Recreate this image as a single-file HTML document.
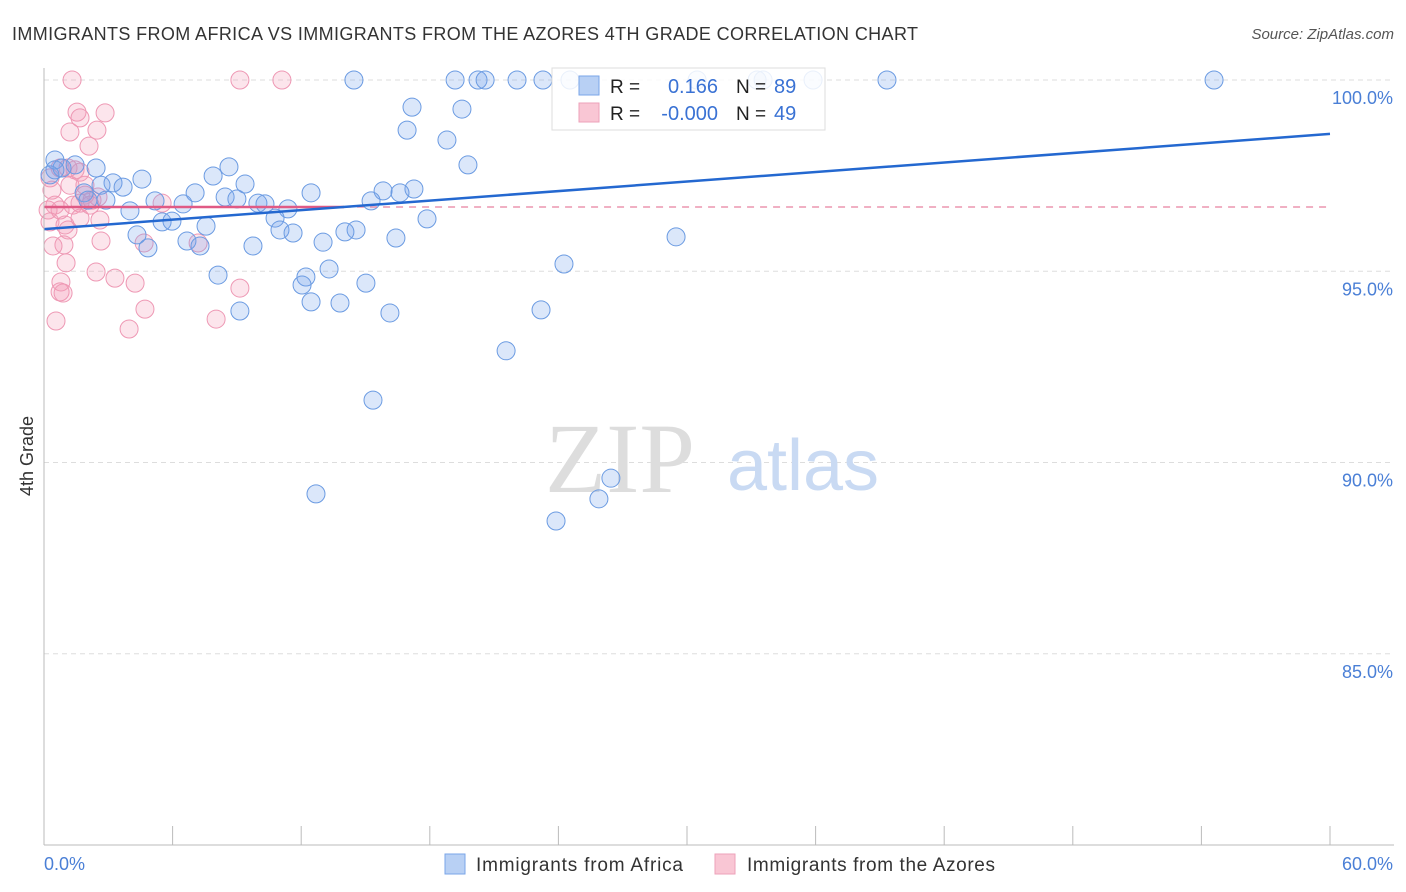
<!DOCTYPE html>
<html><head><meta charset="utf-8"><style>
body{margin:0;background:#fff;font-family:"Liberation Sans",sans-serif;}
svg{display:block}
</style></head><body>
<svg id="c" width="1406" height="892" viewBox="0 0 1406 892">
<text x="12" y="40" font-size="18" fill="#333" textLength="906">IMMIGRANTS FROM AFRICA VS IMMIGRANTS FROM THE AZORES 4TH GRADE CORRELATION CHART</text>
<text x="1394" y="39" font-size="15" fill="#555" text-anchor="end" font-style="italic">Source: ZipAtlas.com</text>
<text x="33" y="456" font-size="18" fill="#333" text-anchor="middle" transform="rotate(-90 33 456)">4th Grade</text>
<g id="grid"></g>
<text x="620" y="492" font-size="100" fill="#ddd" font-family="Liberation Serif,serif" text-anchor="middle">ZIP</text>
<text x="803" y="490" font-size="72" fill="#c9daf3" text-anchor="middle">atlas</text>
<g id="pts"></g>
<g id="trend"></g>
<line x1="44" y1="68" x2="44" y2="845" stroke="#bbb"/>
<line x1="44" y1="845" x2="1394" y2="845" stroke="#bbb"/>
<g id="xt"></g>
<text x="44" y="870" font-size="18" fill="#4a7fd6">0.0%</text>
<text x="1393" y="870" font-size="18" fill="#4a7fd6" text-anchor="end">60.0%</text>
<g>
<rect x="552" y="68" width="273" height="62" fill="#fff" fill-opacity="0.85" stroke="#ddd"/>
<rect x="579" y="76" width="20" height="19" fill="#b8d0f4" stroke="#7aa6e8"/>
<rect x="579" y="103" width="20" height="19" fill="#f9c6d4" stroke="#eda2ba"/>
<text x="610" y="93" font-size="19" fill="#222">R =</text>
<text x="718" y="93" font-size="20" fill="#3a72d4" text-anchor="end">0.166</text>
<text x="736" y="93" font-size="19" fill="#222">N =</text>
<text x="774" y="93" font-size="20" fill="#3a72d4">89</text>
<text x="610" y="120" font-size="19" fill="#222">R =</text>
<text x="718" y="120" font-size="20" fill="#3a72d4" text-anchor="end">-0.000</text>
<text x="736" y="120" font-size="19" fill="#222">N =</text>
<text x="774" y="120" font-size="20" fill="#3a72d4">49</text>
</g>
<rect x="445" y="854" width="20" height="20" fill="#b8d0f4" stroke="#7aa6e8"/>
<text x="476" y="871" font-size="19" fill="#333" textLength="207">Immigrants from Africa</text>
<rect x="715" y="854" width="20" height="20" fill="#f9c6d4" stroke="#eda2ba"/>
<text x="747" y="871" font-size="19" fill="#333" textLength="248">Immigrants from the Azores</text>
</svg>
<script>
const yTicks=[100,95,90,85];
const xTickCount=10;
const blueX=[14.46,19.18,20.25,20.58,22.07,23.28,24.54,30.47,33.27,33.55,35.88,39.33,54.59,17.17,19.5,16.94,18.8,19.78,0.51,0.84,1.45,2.43,8.63,7.89,4.57,3.22,3.69,2.66,9.38,1.87,7.05,12.46,15.82,17.26,16.61,8.45,9.0,5.18,2.89,2.05,6.49,9.98,10.31,15.26,11.38,4.01,10.78,17.87,5.51,5.97,7.56,11.01,11.62,14.56,14.04,4.34,6.67,4.85,7.28,9.75,13.02,16.42,29.49,24.26,13.3,8.12,12.22,12.04,15.02,12.46,13.81,9.14,16.14,23.19,21.56,15.35,12.69,26.45,25.89,23.89,0.51,0.28];
const blueY=[100,100,100,100,100,100,100,100,100,100,100,100,100,99.29,99.24,98.69,98.43,97.78,97.91,97.7,97.78,97.7,97.73,97.49,97.41,97.31,97.2,97.25,97.28,97.05,97.05,97.05,97.1,97.15,97.05,96.94,96.89,96.84,96.86,96.86,96.76,96.78,96.76,96.84,96.63,96.58,96.39,96.37,96.29,96.31,96.18,96.08,96.0,96.08,96.03,95.95,95.79,95.61,95.66,95.66,95.76,95.87,95.9,95.19,95.06,94.9,94.85,94.64,94.69,94.2,94.17,93.96,93.91,93.99,92.92,91.63,89.18,89.59,89.05,88.47,97.65,97.52];
const pinkX=[1.31,9.14,11.1,1.54,2.85,1.68,1.21,2.47,2.1,0.75,1.12,1.45,1.68,0.28,0.37,1.91,2.24,2.52,1.68,0.51,0.19,0.75,1.35,5.51,0.28,1.68,1.12,0.93,2.66,0.42,4.67,7.19,1.03,2.43,3.31,4.25,9.14,0.79,0.75,0.89,4.71,0.56,8.03,3.97,0.98,2.61,1.21,1.91,2.15];
const pinkY=[100,100,100,99.16,99.14,99.01,98.64,98.69,98.27,97.7,97.7,97.65,97.59,97.44,97.12,96.99,96.86,96.94,96.78,96.73,96.6,96.6,96.73,96.78,96.29,96.39,96.08,95.69,95.79,95.66,95.74,95.74,95.22,94.98,94.82,94.69,94.56,94.72,94.46,94.43,94.01,93.7,93.75,93.49,96.21,96.34,97.25,97.25,96.73];
const blueTrend=[96.1,98.59];
const pinkTrend=[96.68,96.68];
const ns="http://www.w3.org/2000/svg";
const X=v=>44+(v/60)*1286;
const Y=v=>80+(100-v)*38.25;
function mk(t,a,p){const e=document.createElementNS(ns,t);for(const k in a)e.setAttribute(k,a[k]);p.appendChild(e);return e;}
const grid=document.getElementById('grid');
yTicks.forEach(t=>{
 const l=mk('line',{x1:44,x2:1394,y1:Y(t),y2:Y(t),stroke:'#ddd','stroke-dasharray':'5,4'},grid);
 
 
 const tx=mk('text',{x:1393,y:Y(t)+24,'font-size':18,fill:'#4a7fd6','text-anchor':'end'},grid);
 tx.textContent=t.toFixed(1)+'%';
 
 
});
const xt=document.getElementById('xt');
for(let i=1;i<=xTickCount;i++){
 const l=mk('line',{x1:X(i*6),x2:X(i*6),y1:826,y2:845,stroke:'#bbb'},xt);
 
 
}
const pts=document.getElementById('pts');
pinkX.forEach((v,i)=>{
 const c=mk('circle',{cx:X(v),cy:Y(pinkY[i]),r:9,fill:'rgba(244,150,180,0.25)',stroke:'#ee98b4','stroke-width':1},pts);
 
 
});
blueX.forEach((v,i)=>{
 const c=mk('circle',{cx:X(v),cy:Y(blueY[i]),r:9,fill:'rgba(110,160,235,0.25)',stroke:'#6b9be2','stroke-width':1},pts);
 
 
});
const tr=document.getElementById('trend');
const pd=(v0,v1,x)=>v0+(v1-v0)*x/60;
let l=mk('line',{x1:X(0),y1:Y(pinkTrend[0]),x2:X(14),y2:Y(pd(pinkTrend[0],pinkTrend[1],14)),stroke:'#e05a85','stroke-width':2.5},tr);


l=mk('line',{x1:X(14),y1:Y(pd(pinkTrend[0],pinkTrend[1],14)),x2:X(60),y2:Y(pinkTrend[1]),stroke:'#e8809f','stroke-width':1.3,'stroke-dasharray':'7,6'},tr);


l=mk('line',{x1:X(0),y1:Y(blueTrend[0]),x2:X(60),y2:Y(blueTrend[1]),stroke:'#2468d0','stroke-width':2.5},tr);


</script>
</body></html>
